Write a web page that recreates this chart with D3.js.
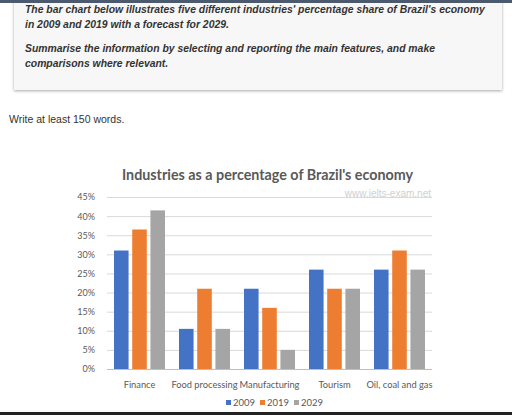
<!DOCTYPE html>
<html>
<head>
<meta charset="utf-8">
<script src="https://cdnjs.cloudflare.com/ajax/libs/d3/7.8.5/d3.min.js"></script>
<style>
	body { margin: 0; background: #fff; }
	svg { display: block; }
</style>
</head>
<body>
<div id="page"></div>
<script>
var categories = ['Finance', 'Food processing', 'Manufacturing', 'Tourism', 'Oil, coal and gas'];
var years = ['2009', '2019', '2029'];
var share2009 = [31, 10.5, 21, 26, 26];
var share2019 = [36.5, 21, 16, 21, 31];
var share2029 = [41.5, 10.5, 5, 21, 26];
var yTicks = [0, 5, 10, 15, 20, 25, 30, 35, 40, 45];
var colors = ['#4472c4', '#ed7d31', '#a5a5a5'];

var promptLines = [
	"The bar chart below illustrates five different industries' percentage share of Brazil's economy",
	"in 2009 and 2019 with a forecast for 2029.",
	"Summarise the information by selecting and reporting the main features, and make",
	"comparisons where relevant."
];

function draw_chart() {
	var series = [share2009, share2019, share2029];

	var svg = d3.select('#page').append('svg')
		.attr('width', 512).attr('height', 415);

	// prompt box
	var defs = svg.append('defs');
	var f = defs.append('filter').attr('id', 'shadow').attr('x', '-5%').attr('y', '-20%').attr('width', '110%').attr('height', '140%');
	f.append('feDropShadow').attr('dx', 0).attr('dy', 1).attr('stdDeviation', 1.5).attr('flood-color', '#000').attr('flood-opacity', 0.35);

	svg.append('rect').attr('x', 14).attr('y', -5).attr('width', 488).attr('height', 95)
		.attr('fill', '#f7f7f7').attr('filter', 'url(#shadow)');
	svg.append('rect').attr('x', 0).attr('y', 0).attr('width', 512).attr('height', 3).attr('fill', '#4b5a6e');

	var lineY = [13, 28, 52, 67];
	svg.selectAll('text.prompt').data(promptLines).enter().append('text')
		.attr('class', 'prompt')
		.attr('x', 25).attr('y', function(d, i) { return lineY[i]; })
		.attr('font-family', 'Liberation Sans, Arial, sans-serif')
		.attr('font-size', 10.4).attr('font-weight', 'bold').attr('font-style', 'italic')
		.attr('fill', '#333')
		.text(function(d) { return d; });

	svg.append('text').attr('x', 9).attr('y', 123)
		.attr('font-family', 'Liberation Sans, Arial, sans-serif')
		.attr('font-size', 10.5).attr('fill', '#333')
		.text('Write at least 150 words.');

	// chart
	var plotLeft = 107, plotRight = 432, plotTop = 197, plotBottom = 369;

	var x = d3.scaleBand().domain(categories).range([plotLeft, plotRight]);
	var xInner = d3.scaleBand().domain(years).range([7, x.bandwidth() - 7]).paddingInner(0.2);
	var y = d3.scaleLinear().domain([0, 45]).range([plotBottom, plotTop]);

	var chartFont = 'Lato, Open Sans, sans-serif';

	svg.append('text').attr('x', (plotLeft + plotRight) / 2 - 2).attr('y', 180)
		.attr('text-anchor', 'middle')
		.attr('font-family', chartFont).attr('font-size', 14.3).attr('font-weight', 'bold')
		.attr('fill', '#595959')
		.text("Industries as a percentage of Brazil's economy");

	svg.append('text').attr('x', 431).attr('y', 197)
		.attr('text-anchor', 'end')
		.attr('font-family', 'Liberation Sans, Arial, sans-serif').attr('font-size', 10)
		.attr('fill', '#d0d0d0')
		.text('www.ielts-exam.net');

	svg.append('g').selectAll('line').data(yTicks).enter().append('line')
		.attr('x1', plotLeft).attr('x2', plotRight)
		.attr('y1', function(d) { return y(d) + 0.5; }).attr('y2', function(d) { return y(d) + 0.5; })
		.attr('stroke', function(d) { return d === 0 ? '#bfbfbf' : '#d9d9d9'; })
		.attr('stroke-width', 1);

	var yAxis = svg.append('g').attr('transform', 'translate(' + (plotLeft - 9) + ',0)')
		.call(d3.axisLeft(y).tickValues(yTicks).tickSize(0).tickFormat(function(d) { return d + '%'; }));
	yAxis.select('.domain').remove();
	yAxis.selectAll('text').attr('font-family', chartFont).attr('font-size', 9).attr('fill', '#595959');

	var groups = svg.append('g').selectAll('g').data(categories).enter().append('g')
		.attr('transform', function(d) { return 'translate(' + x(d) + ',0)'; });

	groups.selectAll('rect').data(function(d, i) {
		return years.map(function(yr, j) { return { year: yr, value: series[j][i], c: colors[j] }; });
	}).enter().append('rect')
		.attr('x', function(d) { return xInner(d.year); })
		.attr('width', xInner.bandwidth())
		.attr('y', function(d) { return y(d.value); })
		.attr('height', function(d) { return plotBottom - y(d.value); })
		.attr('fill', function(d) { return d.c; });

	var xAxis = svg.append('g').attr('transform', 'translate(0,' + (plotBottom + 9) + ')')
		.call(d3.axisBottom(x).tickSize(0));
	xAxis.select('.domain').remove();
	xAxis.selectAll('text').attr('font-family', chartFont).attr('font-size', 9.3).attr('fill', '#595959');

	// legend
	var legend = svg.append('g').attr('transform', 'translate(226,403)');
	var items = legend.selectAll('g').data(years).enter().append('g')
		.attr('transform', function(d, i) { return 'translate(' + (i * 34) + ',0)'; });
	items.append('rect').attr('x', 0).attr('y', -3).attr('width', 5).attr('height', 5)
		.attr('fill', function(d, i) { return colors[i]; });
	items.append('text').attr('x', 7).attr('y', 3)
		.attr('font-family', chartFont).attr('font-size', 9.5).attr('fill', '#595959')
		.text(function(d) { return d; });

	svg.append('rect').attr('x', 0).attr('y', 412).attr('width', 512).attr('height', 3).attr('fill', '#222');
}

draw_chart();
</script>
</body>
</html>
